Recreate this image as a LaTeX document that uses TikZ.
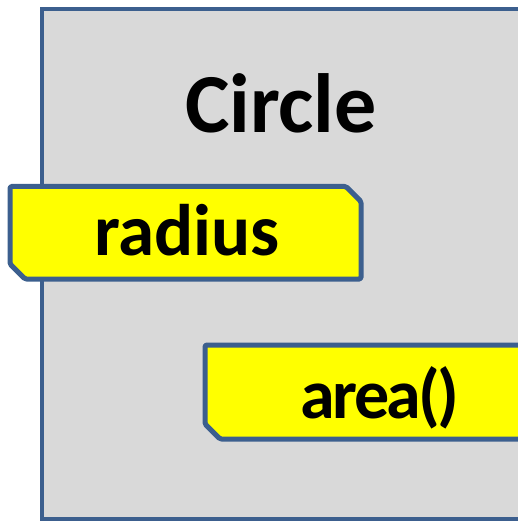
\documentclass[tikz,border=0pt]{standalone}
\usepackage{fontspec}
\setmainfont{Carlito}
\newfontfamily\tightfont[LetterSpace=-4]{Carlito}
\definecolor{edgeblue}{HTML}{3C5F8E}
\definecolor{classgray}{HTML}{D9D9D9}
\definecolor{memberyellow}{HTML}{FFFF00}
\tikzset{
  classbox/.style={draw=edgeblue, fill=classgray, line width=4.5pt},
  memberbox/.style={draw=edgeblue, fill=memberyellow, line width=5pt, line join=round, rounded corners=1.5pt},
  label/.style={text=black, anchor=base, inner sep=0pt}
}
\begin{document}
\begin{tikzpicture}[x=1pt, y=-1pt]
  \useasboundingbox (0,0) rectangle (518,521);
  % class outline
  \draw[classbox] (42,9) rectangle (570,519.5);
  \node[label, font=\bfseries\fontsize{84}{90}\selectfont] (title) at (281,133) {Circle};
  % attribute
  \draw[memberbox] (10,186.5) -- (346,186.5) -- (361,201.5) -- (361,279)
                   -- (25,279) -- (10,264) -- cycle;
  \node[label, font=\bfseries\fontsize{73}{78}\selectfont] (radius) at (187,255) {radius};
  % operation
  \draw[memberbox] (205,345) -- (600,345) -- (600,439) -- (220,439)
                   -- (205,424) -- cycle;
  \node[label, font=\tightfont\bfseries\fontsize{70}{75}\selectfont] (area) at (380,418) {area()};
\end{tikzpicture}
\end{document}
